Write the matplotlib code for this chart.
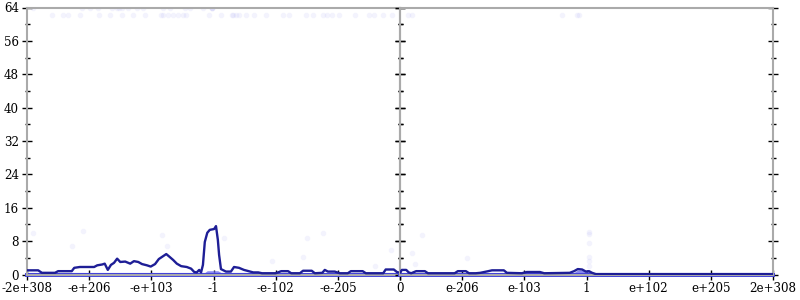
import matplotlib
matplotlib.use("Agg")
import matplotlib.pyplot as plt
import numpy as np

plt.rcParams['font.family'] = ['DejaVu Serif']

# position on the axis, in tick steps (-6 = -2e+308 ... 0 ... 6 = 2e+308)
tick_pos = [-6, -5, -4, -3, -2, -1, 0, 1, 2, 3, 4, 5, 6]
tick_lab = ['-2e+308', '-e+206', '-e+103', '-1', '-e-102', '-e-205', '0',
            'e-206', 'e-103', '1', 'e+102', 'e+205', '2e+308']

# histogram line
hx = [-6.00, -5.82, -5.76, -5.55, -5.50, -5.28, -5.24, -5.15, -4.92, -4.87,
      -4.79, -4.75, -4.70, -4.65, -4.60, -4.55, -4.50, -4.42, -4.34, -4.28,
      -4.21, -4.15, -4.07, -4.01, -3.94, -3.88, -3.81, -3.76, -3.72, -3.65,
      -3.59, -3.52, -3.43, -3.36, -3.31, -3.27, -3.23, -3.20, -3.17, -3.14,
      -3.10, -3.06, -2.99, -2.96, -2.93, -2.91, -2.88, -2.80, -2.72, -2.67,
      -2.59, -2.51, -2.41, -2.36, -2.28, -2.22, -2.09, -2.00, -1.91, -1.80,
      -1.75, -1.61, -1.56, -1.42, -1.37, -1.25, -1.21, -1.16, -1.05, -0.97,
      -0.84, -0.79, -0.60, -0.55, -0.27, -0.23, -0.10, -0.05, 0.00,
      0.03, 0.10, 0.14, 0.18, 0.26, 0.40, 0.45, 0.88, 0.93, 1.06, 1.11,
      1.22, 1.29, 1.42, 1.48, 1.67, 1.72, 1.96, 2.04, 2.25, 2.32, 2.73,
      2.80, 2.86, 2.93, 2.99, 3.04, 3.09, 3.15, 6.00]
hy = [1.0, 1.0, 0.4, 0.4, 0.8, 0.8, 1.6, 1.8, 1.8, 2.2,
      2.4, 2.6, 1.1, 2.3, 2.8, 3.8, 3.0, 3.1, 2.6, 3.2,
      3.0, 2.5, 2.2, 1.9, 2.5, 3.7, 4.4, 4.9, 4.4, 3.5,
      2.6, 2.0, 1.8, 1.4, 0.6, 0.5, 1.1, 0.5, 2.3, 7.8,
      10.0, 10.7, 10.9, 11.6, 8.3, 4.7, 1.3, 0.7, 0.7, 1.8,
      1.6, 1.1, 0.7, 0.5, 0.5, 0.3, 0.3, 0.3, 0.8, 0.8,
      0.3, 0.3, 0.9, 0.9, 0.3, 0.4, 1.1, 0.7, 0.7, 0.3,
      0.3, 0.8, 0.8, 0.3, 0.3, 1.2, 1.2, 0.6, 0.4,
      1.1, 1.1, 0.5, 0.3, 0.8, 0.8, 0.3, 0.3, 0.8, 0.8, 0.3,
      0.3, 0.4, 0.8, 1.0, 1.0, 0.4, 0.3, 0.6, 0.6, 0.3, 0.4,
      0.8, 1.3, 1.2, 0.7, 0.8, 0.4, 0.1, 0.1]

# lighter band under the line
bx = [-6.0, -3.14, -3.10, -2.93, -2.88, 2.80, 2.86, 3.04, 3.10, 6.0]
by = [0.5, 0.5, 0.9, 0.9, 0.5, 0.5, 1.1, 0.9, 0.2, 0.2]

# faint sample points
px = [-5.90, -5.12, -4.99, -4.86, -4.63, -4.55, -4.52, -4.47, -4.38, -4.23,
      -4.13, -3.81, -3.70, -3.46, -3.38, -3.17, -3.02, -3.02, -3.02,
      -5.60, -5.42, -5.34, -5.15, -4.84, -4.66, -4.47, -4.29, -4.10, -3.84,
      -3.81, -3.73, -3.65, -3.57, -3.49, -3.44, -3.07, -2.88, -2.70, -2.69,
      -2.64, -2.59, -2.48, -2.35, -2.16, -1.88, -1.78, -1.51, -1.40, -1.24,
      -1.17, -1.09, -0.98, -0.72, -0.50, -0.42, -0.27, -0.13, 0.13, 0.19,
      2.61, 2.85, 2.88,
      -5.90, -5.10, -5.28, -3.83, -3.75, -2.83, -1.50, -1.24, -2.06, -1.56,
      -0.14, -0.40, 0.35, 0.19, 1.08, 0.24, 3.04, 3.04, 3.04, 3.04, 3.04, 3.04]
py = [64] * 19 + [62.1] * 43 + [
      10.0, 10.4, 6.8, 9.5, 6.8, 8.8, 8.8, 10.0, 3.2, 4.2,
      5.9, 2.0, 9.5, 5.2, 4.0, 2.5, 10.2, 9.7, 7.6, 4.2, 3.2, 2.0]

fig = plt.figure(figsize=(8, 3), dpi=100)
h = 267 / 300
b = 25.5 / 300
axl = fig.add_axes([27 / 800, b, 373 / 800, h])
axr = fig.add_axes([400 / 800, b, 373 / 800, h])

for ax, lims in ((axl, (-6, 0)), (axr, (0, 6))):
    ax.scatter(px, py, s=16, color='#6a6ae8', alpha=0.08, linewidths=0,
               zorder=1)
    ax.fill_between(bx, 0, by, color='#6b6bee', alpha=0.8, lw=0, zorder=2)
    ax.plot(hx, hy, color='#1e1e96', lw=1.7, zorder=3)
    ax.axhline(0, color='#3c3cdc', lw=2.8, zorder=2, clip_on=False)
    ax.set_xlim(*lims)
    ax.set_ylim(0, 64)
    ax.set_yticks(np.arange(0, 65, 8))
    ax.set_yticks(np.arange(4, 64, 8), minor=True)
    for s in ax.spines.values():
        s.set_color('#aaaaaa')
        s.set_linewidth(1.5)
    ax.tick_params(which='both', direction='inout', color='black', width=1,
                   left=True, right=True, labelsize=8.6, pad=2)
    ax.tick_params(which='major', length=7.5)
    ax.tick_params(which='minor', length=3.6)
    ax.tick_params(axis='x', which='minor', bottom=False)
    ax.patch.set_alpha(0)

axl.set_xticks(tick_pos[:7])
axl.set_xticklabels(tick_lab[:7])
axr.set_xticks(tick_pos[6:])
axr.set_xticklabels([''] + tick_lab[7:])
axr.tick_params(labelleft=False)

fig.savefig('out.png', dpi=100)
